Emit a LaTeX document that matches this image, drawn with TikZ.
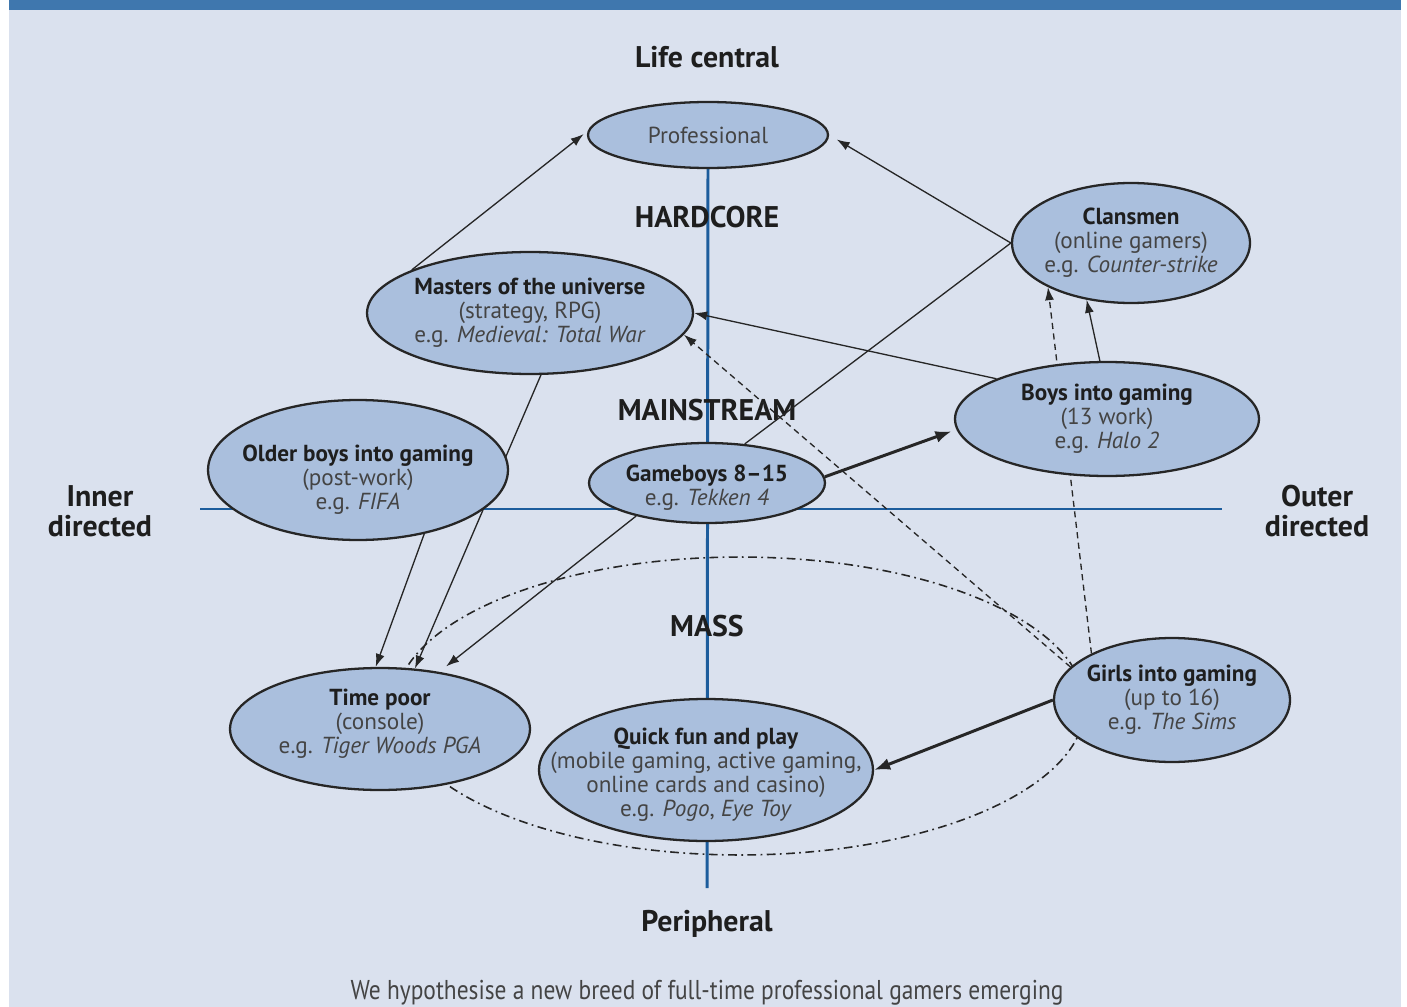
\documentclass[tikz,border=0pt]{standalone}
\usepackage{fontspec}
\setmainfont{PT Sans}
\newfontfamily\capfont[FakeStretch=0.86]{PT Sans}
\usetikzlibrary{shapes.geometric,arrows.meta,backgrounds}

\definecolor{bgblue}{RGB}{218,225,238}
\definecolor{barblue}{RGB}{63,119,174}
\definecolor{grpfill}{RGB}{170,191,221}
\definecolor{axisblue}{RGB}{28,92,156}
\definecolor{txtdark}{RGB}{30,30,30}
\definecolor{txtgray}{RGB}{68,68,68}

\tikzset{
  grp/.style={ellipse, draw=black!85, line width=1.3pt, fill=grpfill, inner sep=0pt},
  grptxt/.style={align=center, text=txtgray, font=\fontsize{13.2}{13.7}\selectfont},
  zone/.style={align=center, text=txtdark, font=\bfseries\fontsize{17}{16.8}\selectfont},
  axis/.style={draw=axisblue, line width=1.7pt},
  link/.style={draw=black!85, line width=0.75pt, -{Latex[length=2.6mm,width=1.8mm]}},
  boldlink/.style={link, line width=1.7pt, -{Latex[length=3.2mm,width=2.4mm]}},
  dashlink/.style={link, dash pattern=on 3.5pt off 2.5pt},
}
\newcommand{\grtitle}[1]{\textcolor{txtdark}{\textbf{#1}}}

\begin{document}
\begin{tikzpicture}[x=0.02cm, y=-0.02cm]
\useasboundingbox (0,0) rectangle (1407,1007);

% groups
\node[grp, minimum width=4.8cm, minimum height=1.32cm,
  label={[grptxt]center:Professional}] (prof) at (708,135) {};
\node[grp, minimum width=4.76cm, minimum height=2.4cm,
  label={[grptxt]center:{\grtitle{Clansmen}\\(online gamers)\\e.g. \textit{Counter-strike}}}] (clan) at (1131,243) {};
\node[grp, minimum width=6.52cm, minimum height=2.44cm,
  label={[grptxt]center:{\grtitle{Masters of the universe}\\(strategy, RPG)\\e.g. \textit{Medieval: Total War}}}] (mast) at (530,313) {};
\node[grp, minimum width=6cm, minimum height=2.8cm,
  label={[grptxt, yshift=-0.2cm]center:{\grtitle{Older boys into gaming}\\(post-work)\\e.g. \textit{FIFA}}}] (older) at (358,470) {};
\node[grp, minimum width=4.72cm, minimum height=1.6cm,
  label={[grptxt, yshift=-0.1cm]center:{\grtitle{Gameboys 8--15}\\e.g. \textit{Tekken 4}}}] (gb) at (707,483) {};
\node[grp, minimum width=6.08cm, minimum height=2.28cm,
  label={[grptxt]center:{\grtitle{Boys into gaming}\\(13 work)\\e.g. \textit{Halo 2}}}] (boys) at (1107,419) {};
\node[grp, minimum width=6cm, minimum height=2.44cm,
  label={[grptxt, yshift=0.1cm]center:{\grtitle{Time poor}\\(console)\\e.g. \textit{Tiger Woods PGA}}}] (tp) at (380,729) {};
\node[grp, minimum width=6.68cm, minimum height=2.84cm,
  label={[grptxt, yshift=-0.1cm]center:{\grtitle{Quick fun and play}\\(mobile gaming, active gaming,\\online cards and casino)\\e.g. \textit{Pogo}, \textit{Eye Toy}}}] (qf) at (706,770) {};
\node[grp, minimum width=4.72cm, minimum height=2.48cm,
  label={[grptxt]center:{\grtitle{Girls into gaming}\\(up to 16)\\e.g. \textit{The Sims}}}] (girls) at (1172,700) {};

% axis labels
\node[zone] (life) at (707,57) {Life central};
\node[zone] (hard) at (707,217) {HARDCORE};
\node[zone] (main) at (707,410) {MAINSTREAM};
\node[zone] (mass) at (707,626) {MASS};
\node[zone] (peri) at (707,924) {Peripheral};
\node[zone] (inner) at (100,511) {Inner\\directed};
\node[zone] (outer) at (1317,511) {Outer\\directed};
\node[text=txtgray, font=\capfont\fontsize{15.5}{17}\selectfont] (cap) at (707,993)
  {We hypothesise a new breed of full-time professional gamers emerging};

\coordinate (vbot) at (707,888);
\coordinate (hl) at (200,509);
\coordinate (hr) at (1222,509);

\begin{pgfonlayer}{background}
\fill[white] (0,0) rectangle (1407,1007);
\fill[bgblue] (9,0) rectangle (1401,1007);
\fill[barblue] (9,0) rectangle (1401,10);
\draw[axis] (prof.south) -- (vbot);
\draw[axis] (hl) -- (hr);
\draw[black!85, line width=0.9pt, dash pattern=on 5pt off 2.5pt on 1pt off 2.5pt]
  (740,706) ellipse [x radius=6.9cm, y radius=2.98cm];
\draw[dashlink] (girls.150) -- (clan.208);
\draw[link] (mast.280) -- (tp.60);
\end{pgfonlayer}

% links
\draw[link, shorten >=3pt] (mast.160) -- (prof.178);
\draw[link, shorten >=5pt] (clan.west) -- (prof.east);
\draw[black!85, line width=0.75pt] (gb.46) -- (clan.west);
\draw[link] (boys.160) -- (mast.east);
\draw[dashlink] (girls.162) -- (mast.-8);
\draw[link] (boys.97) -- (clan.232);
\draw[boldlink, shorten >=3pt] (gb.3) -- (boys.184);
\draw[link] (older.316) -- (tp.94);
\draw[link, shorten >=5pt] (gb.205) -- (tp.44);
\draw[boldlink] (girls.west) -- (qf.east);
\end{tikzpicture}
\end{document}
